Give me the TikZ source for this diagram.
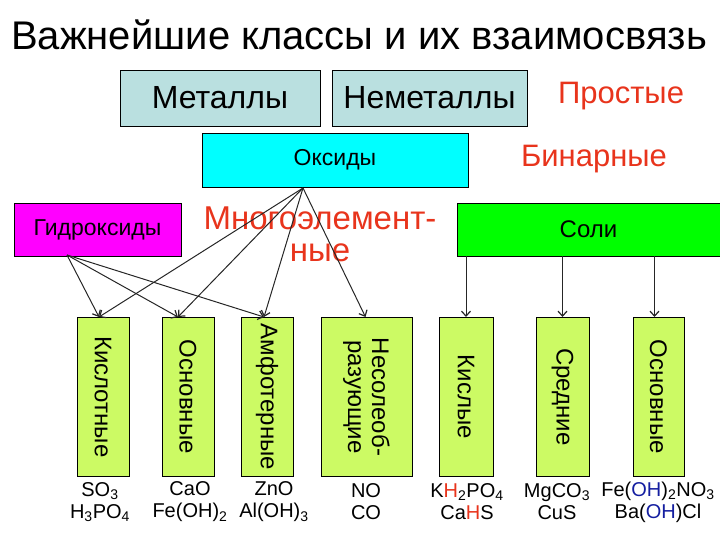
\documentclass[tikz,border=0pt]{standalone}
\usepackage{fontspec}
\setmainfont{Liberation Sans}
\usetikzlibrary{arrows.meta}
\definecolor{redtxt}{RGB}{232,52,28}
\definecolor{metfill}{RGB}{186,224,224}
\definecolor{vfill}{RGB}{204,250,100}
\definecolor{ohblue}{RGB}{20,30,160}
\definecolor{oxcyan}{RGB}{0,255,255}
\definecolor{hydmag}{RGB}{255,0,255}
\definecolor{salgreen}{RGB}{0,255,0}
\newcommand{\fs}[1]{\fontsize{#1}{#1}\selectfont}
\tikzset{
  box/.style={draw=black, line width=0.8pt, inner sep=0pt, align=center},
  vbox/.style={box, fill=vfill, minimum height=159pt, anchor=north},
  vtext/.style={rotate=-90, inner sep=0pt, font=\fs{24}, align=center},
  formula/.style={inner sep=0pt, font=\fs{20}, align=center},
  conn/.style={line width=1pt, black!85, -{Straight Barb[length=5pt,width=9pt,line width=1.2pt]}},
  redlabel/.style={inner sep=0pt, text=redtxt, align=center}
}
\begin{document}
\begin{tikzpicture}[x=1pt,y=-1pt]
\useasboundingbox (0,0) rectangle (720,540);
% title
\node[inner sep=0pt, font=\fs{40}] (title) at (359,35) {Важнейшие классы и их взаимосвязь};
% top boxes
\node[box, fill=metfill, minimum width=200pt, minimum height=56pt, font=\fs{32}] (met) at (220,98) {Металлы};
\node[box, fill=metfill, minimum width=195pt, minimum height=56pt, font=\fs{32}] (nemet) at (429.5,98) {Неметаллы};
\node[redlabel, font=\fs{31}] (prost) at (621,96) {Простые};
\node[box, fill=oxcyan, minimum width=266pt, minimum height=54pt, font=\fs{23}] (oks) at (335,160) {Оксиды};
\node[redlabel, font=\fs{31}] (bin) at (594,159) {Бинарные};
\node[box, fill=hydmag, minimum width=167pt, minimum height=53pt, font=\fs{23}] (gid) at (97.5,229.5) {Гидроксиды};
\node[box, fill=salgreen, minimum width=265pt, minimum height=53pt, font=\fs{24}, text width=265pt] (soli) at (589.5,229.5) {\hspace*{-2pt}Соли};
\node[redlabel, font=\fs{33}, align=center] (mnog) at (320,234) {Многоэлемент-\\[-1pt]ные};
% vertical boxes
\node[vbox, minimum width=52pt] (kislot) at (103,317) {};
\node[vtext] at (kislot) {Кислотные};
\node[vbox, minimum width=52pt] (osn) at (188,317) {};
\node[vtext] at (osn) {Основные};
\node[vbox, minimum width=52pt] (amf) at (267,317) {};
\node[vtext] at (amf) {Амфотерные};
\node[vbox, minimum width=91pt] (nesol) at (366.5,317) {};
\node[vtext] at (nesol) {Несолеоб-\\разующие};
\node[vbox, minimum width=54pt] (kisl) at (466,317) {};
\node[vtext] at (kisl) {Кислые};
\node[vbox, minimum width=53pt] (sred) at (562.5,317) {};
\node[vtext] at (sred) {Средние};
\node[vbox, minimum width=51pt] (osnsol) at (658.5,317) {};
\node[vtext] at (osnsol) {Основные};
% connectors
\coordinate (ho) at (67,255);
\coordinate (oo) at (303,188);
\draw[conn] (ho) -- ([xshift=-4pt]kislot.north);
\draw[conn] (ho) -- ([xshift=-10pt]osn.north);
\draw[conn] (ho) -- ([xshift=-3pt]amf.north);
\draw[conn] (oo) -- ([xshift=-4pt]kislot.north);
\draw[conn] (oo) -- ([xshift=-10pt]osn.north);
\draw[conn] (oo) -- ([xshift=-3pt]amf.north);
\draw[conn] (oo) -- ([xshift=-1pt]nesol.north);
\draw[conn] (soli.south -| kisl.north) -- (kisl.north);
\draw[conn] (soli.south -| sred.north) -- (sred.north);
\draw[conn] ([xshift=-4pt]soli.south -| osnsol.north) -- ([xshift=-4pt]osnsol.north);
% formulas
\node[formula] (f1) at (100,502) {SO\textsubscript{3}\\[2pt]H\textsubscript{3}PO\textsubscript{4}};
\node[formula] (f2) at (190,502) {CaO\\[2pt]Fe(OH)\textsubscript{2}};
\node[formula] (f3) at (274,502) {ZnO\\[2pt]Al(OH)\textsubscript{3}};
\node[formula] (f4) at (366,502) {NO\\[2pt]CO};
\node[formula] (f5) at (467,502) {K{\color{redtxt}H}\textsubscript{2}PO\textsubscript{4}\\[2pt]Ca{\color{redtxt}H}S};
\node[formula] (f6) at (557,502) {MgCO\textsubscript{3}\\[2pt]CuS};
\node[formula] (f7) at (658,502) {Fe({\color{ohblue}OH})\textsubscript{2}NO\textsubscript{3}\\[2pt]Ba({\color{ohblue}OH})Cl};
\end{tikzpicture}
\end{document}
